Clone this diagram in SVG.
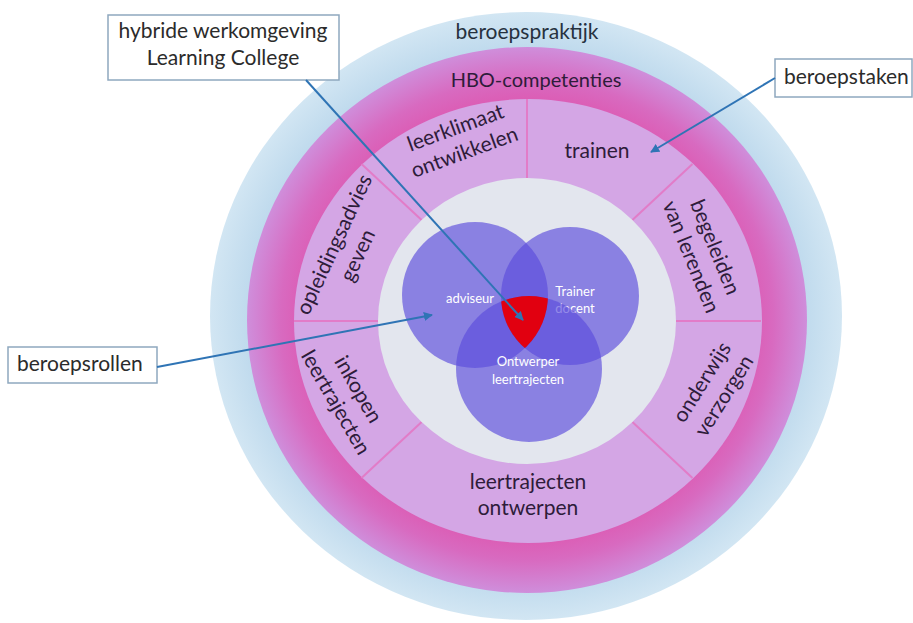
<svg xmlns="http://www.w3.org/2000/svg" width="913" height="623" viewBox="0 0 913 623">
<style>
.lbl{font-family:Lato,"Open Sans","Noto Sans",sans-serif;font-size:21px;fill:#2e1c3a;text-anchor:middle}
.top{fill:#26323f}
.call{font-family:Lato,"Open Sans","Noto Sans",sans-serif;font-size:21px;fill:#2b2b2b}
.box{fill:#ffffff;stroke:#8ea8bf;stroke-width:1.5}
.venn{fill:#5b4bdc;fill-opacity:0.65}
.vt{font-family:Lato,"Open Sans","Noto Sans",sans-serif;font-size:13px;fill:#ffffff;text-anchor:middle}
.div{stroke:#e27cc8;stroke-width:2}
.con{stroke:#2f74b5;stroke-width:2;fill:none;marker-end:url(#arr)}
</style>
<defs>
<radialGradient id="gBlue" cx="0.5" cy="0.5" r="0.5">
<stop offset="0.86" stop-color="#bcd8ec"/>
<stop offset="1" stop-color="#d2e6f3"/>
</radialGradient>
<radialGradient id="gPink" cx="0.5" cy="0.5" r="0.5">
<stop offset="0.8" stop-color="#dc5cb4"/>
<stop offset="0.88" stop-color="#d86ac0"/>
<stop offset="1" stop-color="#cf8edb"/>
</radialGradient>
<marker id="arr" viewBox="0 0 10 10" refX="9" refY="5" markerWidth="9" markerHeight="9" markerUnits="userSpaceOnUse" orient="auto">
<path d="M0,0 L10,5 L0,10 z" fill="#2f74b5"/>
</marker>
<clipPath id="cA"><circle cx="475" cy="295" r="73"/></clipPath>
<clipPath id="cB"><circle cx="570" cy="296" r="69"/></clipPath>
</defs>
<rect width="913" height="623" fill="#ffffff"/>

<g id="ring-beroepspraktijk">
<ellipse cx="526" cy="316" rx="316" ry="304" fill="url(#gBlue)"/>
<text class="lbl top" x="527" y="39">beroepspraktijk</text>
</g>
<g id="ring-hbo-competenties">
<ellipse cx="527" cy="320" rx="280" ry="273" fill="url(#gPink)"/>
<text class="lbl" x="536" y="87" style="font-size:20px">HBO-competenties</text>
</g>
<g id="ring-beroepstaken">
<ellipse cx="528" cy="321" rx="234" ry="222" fill="#d4a6e5"/>
<line class="div" x1="527" y1="178" x2="527" y2="99"/>
<line class="div" x1="632.4" y1="219.9" x2="692.5" y2="164"/>
<line class="div" x1="676" y1="321" x2="761" y2="321"/>
<line class="div" x1="632.4" y1="422.1" x2="692.5" y2="478"/>
<line class="div" x1="421.6" y1="422.1" x2="361.5" y2="478"/>
<line class="div" x1="378" y1="321" x2="294" y2="321"/>
<line class="div" x1="421.6" y1="219.9" x2="361.5" y2="164"/>
</g>
<g id="seg-leerklimaat">
<g transform="translate(460,140) rotate(-20)"><text class="lbl" x="0" y="-6">leerklimaat</text><text class="lbl" x="0" y="20">ontwikkelen</text></g>
</g>
<g id="seg-trainen"><text class="lbl" x="597" y="158">trainen</text></g>
<g id="seg-begeleiden">
<g transform="translate(703,252) rotate(68)"><text class="lbl" x="0" y="-6">begeleiden</text><text class="lbl" x="0" y="20">van lerenden</text></g>
</g>
<g id="seg-onderwijs">
<g transform="translate(713,389) rotate(-58)"><text class="lbl" x="0" y="-6">onderwijs</text><text class="lbl" x="0" y="20">verzorgen</text></g>
</g>
<g id="seg-ontwerpen"><text class="lbl" x="528" y="489">leertrajecten</text><text class="lbl" x="528" y="515">ontwerpen</text></g>
<g id="seg-inkopen">
<g transform="translate(347,396) rotate(60)"><text class="lbl" x="0" y="-6">inkopen</text><text class="lbl" x="0" y="20">leertrajecten</text></g>
</g>
<g id="seg-opleidingsadvies">
<g transform="translate(346,250) rotate(-65)"><text class="lbl" x="0" y="-6">opleidingsadvies</text><text class="lbl" x="0" y="20">geven</text></g>
</g>

<g id="werkomgeving">
<ellipse cx="527" cy="321" rx="149" ry="143" fill="#e3e6ee"/>
</g>
<g id="rol-adviseur">
<circle class="venn" cx="475" cy="295" r="73"/>
<text class="vt" x="470" y="303">adviseur</text>
</g>
<g id="rol-trainer">
<circle class="venn" cx="570" cy="296" r="69"/>
<text class="vt" x="575" y="296">Trainer</text>
<text class="vt" x="575" y="313">docent</text>
</g>
<g id="rol-ontwerper">
<circle class="venn" cx="529" cy="369" r="73"/>
<text class="vt" x="528" y="366">Ontwerper</text>
<text class="vt" x="528" y="384">leertrajecten</text>
</g>
<g id="kern">
<g clip-path="url(#cA)"><g clip-path="url(#cB)"><circle cx="529" cy="369" r="73" fill="#e10010"/></g></g>
</g>

<g id="callout-hybride">
<rect class="box" x="108" y="15" width="231" height="65"/>
<text class="call" x="223" y="38" text-anchor="middle">hybride werkomgeving</text>
<text class="call" x="223" y="65" text-anchor="middle">Learning College</text>
</g>
<g id="callout-beroepstaken">
<rect class="box" x="775" y="59" width="137" height="38"/>
<text class="call" x="784" y="84">beroepstaken</text>
</g>
<g id="callout-beroepsrollen">
<rect class="box" x="8" y="347" width="149" height="36"/>
<text class="call" x="17" y="371">beroepsrollen</text>
</g>

<g id="connectors">
<line class="con" x1="306" y1="80" x2="523" y2="320"/>
<line class="con" x1="775" y1="78" x2="651" y2="152"/>
<line class="con" x1="157" y1="367" x2="432" y2="315"/>
</g>
</svg>
